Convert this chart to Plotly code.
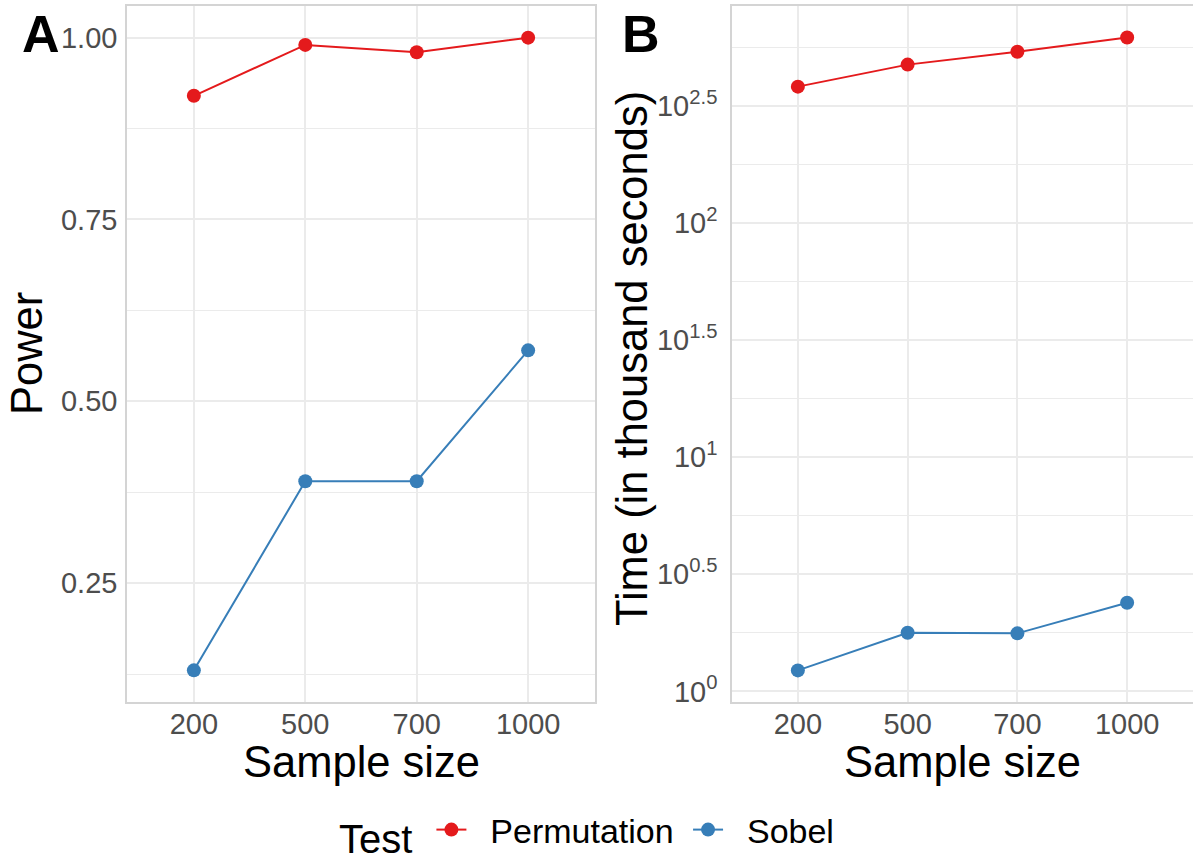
import plotly.graph_objects as go

sample_sizes = ["200", "500", "700", "1000"]
power_perm = [0.92, 0.99, 0.98, 1.00]
power_sobel = [0.13, 0.39, 0.39, 0.57]
time_perm = [381, 473, 537, 617]
time_sobel = [1.23, 1.78, 1.77, 2.39]

power_ticks = [0.25, 0.50, 0.75, 1.00]
power_minor = [0.125, 0.375, 0.625, 0.875]
log_exps = [0, 0.5, 1, 1.5, 2, 2.5]
log_tick_text = ["10<sup>0</sup>", "10<sup>0.5</sup>", "10<sup>1</sup>",
                 "10<sup>1.5</sup>", "10<sup>2</sup>", "10<sup>2.5</sup>"]
log_minor_exps = [0.25, 0.75, 1.25, 1.75, 2.25, 2.75]

RED = "#E41A1C"
BLUE = "#377EB8"
FONT = "Liberation Sans, Arial, sans-serif"
W, H = 1193, 860
NB = "\u00a0"

fig = go.Figure()
for name, col, pw, tm in [("Permutation", RED, power_perm, time_perm),
                          ("Sobel", BLUE, power_sobel, time_sobel)]:
    label = NB * 2 + name + NB
    fig.add_trace(go.Scatter(x=sample_sizes, y=pw, mode="lines+markers", name=label,
                             line=dict(color=col, width=2), marker=dict(color=col, size=14),
                             xaxis="x", yaxis="y", legendgroup=name, showlegend=True))
    fig.add_trace(go.Scatter(x=sample_sizes, y=tm, mode="lines+markers", name=label,
                             line=dict(color=col, width=2), marker=dict(color=col, size=14),
                             xaxis="x2", yaxis="y2", legendgroup=name, showlegend=False))

ydom = [(H - 702) / H, (H - 6) / H]
grid = "#EBEBEB"
border = "#D4D4D4"
tickfont = dict(family=FONT, size=29, color="#4D4D4D")

xcommon = dict(type="category", range=[-0.6, 3.6], showgrid=True, gridcolor=grid, gridwidth=1.6,
               zeroline=False, showline=True, linecolor=border, linewidth=1.5, mirror=True,
               ticks="", tickfont=tickfont, ticklabelstandoff=-5, automargin=False,
               categoryorder="array", categoryarray=sample_sizes)

fig.update_layout(
    width=W, height=H, margin=dict(l=0, r=0, t=0, b=0, autoexpand=False),
    paper_bgcolor="white", plot_bgcolor="white",
    font=dict(family=FONT, color="black"),
    xaxis=dict(domain=[127 / W, 595 / W], anchor="y", **xcommon),
    xaxis2=dict(domain=[732 / W, 1.0], anchor="y2", **xcommon),
    yaxis=dict(domain=ydom, anchor="x", range=[0.0865, 1.0435], tickvals=power_ticks,
               tickformat=".2f", showgrid=True, gridcolor=grid, gridwidth=1.6,
               minor=dict(tickvals=power_minor, showgrid=True, gridcolor=grid, gridwidth=0.8, ticks=""),
               zeroline=False, showline=True, linecolor=border, linewidth=1.5, mirror=True,
               ticks="", tickfont=tickfont, ticklabelstandoff=2, automargin=False),
    yaxis2=dict(domain=ydom, anchor="x2", type="log", range=[-0.045, 2.925],
                tickvals=[10 ** e for e in log_exps], ticktext=log_tick_text,
                showgrid=True, gridcolor=grid, gridwidth=1.6,
                minor=dict(tickvals=[10 ** e for e in log_minor_exps], showgrid=True,
                           gridcolor=grid, gridwidth=0.8, ticks=""),
                zeroline=False, showline=True, linecolor=border, linewidth=1.5, mirror=True,
                ticks="", tickfont=tickfont, ticklabelstandoff=7, automargin=False),
    legend=dict(orientation="h", x=0.497, xanchor="center", y=(H - 832) / H, yanchor="middle",
                title=dict(text="Test" + NB, font=dict(family=FONT, size=40, color="black"), side="left"),
                font=dict(family=FONT, size=34, color="black"), itemwidth=30,
                bgcolor="rgba(0,0,0,0)"),
    showlegend=True,
)

ann = []
def add_ann(text, x, y, size, angle=0, bold=False):
    ann.append(dict(text=f"<b>{text}</b>" if bold else text, x=x / W, y=(H - y) / H,
                    xref="paper", yref="paper", xanchor="center", yanchor="middle",
                    showarrow=False, textangle=angle,
                    font=dict(family=FONT, size=size, color="black")))

add_ann("Sample size", 361, 762, 43.5)
add_ann("Sample size", 962, 762, 43.5)
add_ann("Power", 27, 354, 43.5, angle=-90)
add_ann("Time (in thousand seconds)", 632, 359, 43.5, angle=-90)
add_ann("A", 41, 34, 52, bold=True)
add_ann("B", 641, 34, 52, bold=True)
fig.update_layout(annotations=ann)

fig.write_html("out.html")
